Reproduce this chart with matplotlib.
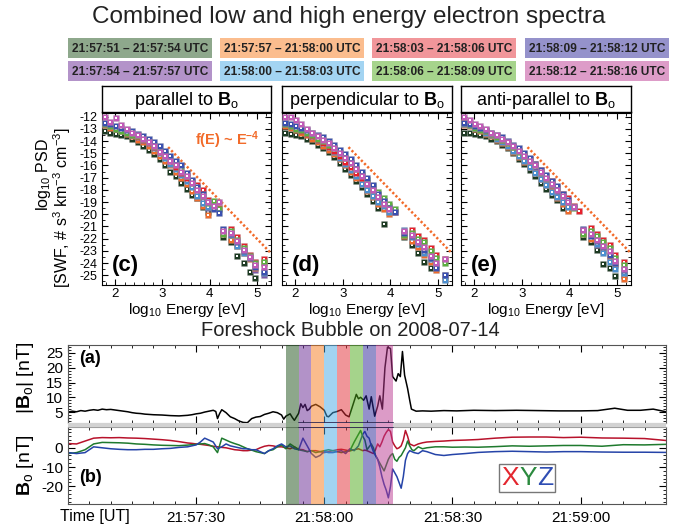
import numpy as np
import matplotlib
matplotlib.use('Agg')
import matplotlib.pyplot as plt
from matplotlib.patches import Rectangle
from matplotlib.ticker import MultipleLocator
from matplotlib.offsetbox import TextArea, HPacker, AnchoredOffsetbox
from matplotlib.transforms import blended_transform_factory

plt.rcParams['font.family'] = ['Liberation Sans', 'DejaVu Sans']
plt.rcParams['mathtext.fontset'] = 'custom'
plt.rcParams['mathtext.rm'] = 'Liberation Sans'
plt.rcParams['mathtext.bf'] = 'Liberation Sans:bold'
plt.rcParams['mathtext.it'] = 'Liberation Sans:italic'
plt.rcParams['axes.unicode_minus'] = False

# ---- time intervals (seconds after 21:57:00) ----
band_edges = [51, 54, 57, 60, 63, 66, 69, 72, 76]
band_times = ['21:57:51', '21:57:54', '21:57:57', '21:58:00', '21:58:03',
              '21:58:06', '21:58:09', '21:58:12', '21:58:16']
band_colors = ['#8ea88c', '#b393c9', '#fbbd8e', '#a3d4f2',
               '#f1969a', '#a6d48c', '#9592cb', '#dd9cc8']
marker_colors = ['#1c3a22', '#7a58a8', '#ef6c2c', '#4b8fd0',
                 '#e8202c', '#5cb040', '#3a50b0', '#c25ab8']
overlay_span = (54, 76)

# ---- spectra ----
energy = [1.79, 1.90, 2.02, 2.13, 2.25, 2.36, 2.48, 2.59, 2.71, 2.82, 2.94,
          3.05, 3.17, 3.28, 3.40, 3.51, 3.63, 3.74, 3.86, 3.97, 4.09, 4.20,
          4.28, 4.45, 4.58, 4.72, 4.85, 4.97, 5.16]
nan = np.nan
psd_par = [
    [-13.2, -13.3, -13.4, -13.5, -13.6, -13.8, -14.1, -14.4, -14.7, -15.1, -15.5, -16.0, -16.5, -16.9, -17.4, -17.9, -18.4, -18.7, -19.4, -19.8, nan, nan,
     -21.9, -22.3, -23.4, -24.0, -24.7, -25.2, nan],
    [-12.6, -12.8, -12.9, -13.1, -13.3, -13.5, -13.8, -14.0, -14.3, -14.6, -15.0, -15.4, -15.8, -16.3, -16.8, -17.3, -17.8, -18.3, -18.9, -19.5, nan, nan,
     -21.5, -22.0, -22.4, -23.0, -23.6, -24.6, -25.0],
    [-12.7, -12.9, -13.0, -13.2, -13.4, -13.6, -13.9, -14.1, -14.4, -14.8, -15.2, -15.6, -16.0, -16.5, -17.0, -17.5, -18.1, -18.7, -19.3, -20.1, nan, nan,
     -21.6, -22.1, -22.6, -23.2, -23.7, -24.4, -24.0],
    [-12.5, -12.7, -12.9, -13.1, -13.2, -13.5, -13.7, -13.9, -14.2, -14.6, -15.0, -15.4, -15.9, -16.3, -16.8, -17.3, -17.8, -18.5, -19.1, -19.4, nan, nan,
     -21.3, -21.7, -22.6, -23.2, -23.5, -24.0, -24.8],
    [-12.6, -12.7, -12.9, -13.1, -13.3, -13.5, -13.7, -13.9, -14.2, -14.5, -14.9, -15.1, -15.6, -16.1, -16.6, -17.0, -17.3, -17.6, -18.0, -18.8, -19.2, -19.5,
     -21.5, -21.2, -21.9, -22.6, -23.3, -23.9, -23.7],
    [-12.6, -12.8, -13.0, -13.2, -13.3, -13.5, -13.6, -13.8, -14.1, -14.4, -14.8, -15.0, -15.4, -15.9, -16.3, -16.9, -17.4, -17.9, -18.5, -19.1, -18.9, -19.6,
     -21.6, -21.4, -22.1, -22.8, -23.4, -24.0, -23.9],
    [-12.5, -12.6, -12.8, -12.9, -13.1, -13.2, -13.4, -13.6, -13.8, -14.1, -14.4, -14.8, -15.2, -15.6, -16.0, -16.6, -17.2, -17.8, -18.3, -19.0, -19.6, -19.9,
     -21.2, -21.6, -22.3, -23.0, -23.6, -24.3, -24.7],
    [-12.0, -12.4, -12.1, -12.7, -13.0, -13.3, -13.5, -13.8, -14.1, -14.4, -14.9, -15.2, -15.6, -16.0, -16.5, -16.9, -17.4, -18.0, -18.5, -19.0, -19.3, -19.0,
     -21.4, -21.5, -22.2, -22.9, -23.5, -24.2, -24.3],
]
psd_perp = [
    [-13.3, -13.4, -13.5, -13.6, -13.8, -14.0, -14.3, -14.6, -14.9, -15.3, -15.8, -16.3, -16.8, -17.3, -17.8, -18.3, -18.9, -19.5, -20.8, nan, nan, nan,
     -21.9, -22.5, -23.2, -23.9, -24.4, nan, nan],
    [-12.6, -12.8, -13.0, -13.2, -13.4, -13.6, -13.9, -14.2, -14.5, -14.9, -15.3, -15.7, -16.1, -16.6, -17.1, -17.6, -18.1, -18.6, -19.1, -19.6, nan, nan,
     -21.6, -22.1, -22.6, -23.1, -23.8, -24.3, -25.0],
    [-12.8, -12.9, -13.1, -13.3, -13.5, -13.8, -14.1, -14.4, -14.7, -15.1, -15.5, -16.0, -16.5, -17.0, -17.5, -18.1, -18.6, -19.2, -19.6, -20.0, nan, nan,
     -21.8, -22.2, -22.7, -23.3, -23.9, -24.6, -25.3],
    [-12.5, -12.7, -12.9, -13.1, -13.3, -13.6, -13.9, -14.2, -14.5, -14.9, -15.4, -15.9, -16.4, -16.9, -17.5, -18.0, -18.5, -19.0, -19.3, -19.8, nan, nan,
     -21.3, -21.9, -22.4, -23.2, -23.7, -24.2, -25.4],
    [-12.6, -12.8, -13.0, -13.2, -13.4, -13.6, -13.9, -14.2, -14.5, -14.8, -15.2, -15.7, -16.1, -16.6, -17.0, -17.4, -17.9, -18.4, -18.9, -19.3, -19.8, nan,
     -21.6, -21.3, -21.8, -22.1, -22.8, -23.3, -23.7],
    [-12.6, -12.8, -13.0, -13.1, -13.3, -13.5, -13.8, -14.0, -14.3, -14.6, -15.0, -15.4, -15.8, -16.3, -16.8, -17.2, -17.7, -18.2, -18.7, -19.2, -19.6, nan,
     -21.7, -21.5, -22.0, -22.3, -23.0, -23.6, -24.0],
    [-12.5, -12.6, -12.8, -12.9, -13.1, -13.3, -13.5, -13.7, -14.0, -14.3, -14.7, -15.1, -15.5, -16.0, -16.5, -17.0, -17.6, -18.3, -18.9, -19.5, -19.8, nan,
     -21.5, -21.8, -22.3, -22.9, -23.6, -24.4, -25.0],
    [-12.0, -12.0, -12.3, -12.6, -13.0, -13.3, -13.6, -13.9, -14.2, -14.6, -15.0, -15.4, -15.8, -16.3, -16.9, -17.5, -18.0, -18.6, -19.2, -19.6, nan, nan,
     -21.4, -21.7, -22.3, -22.7, -23.4, -24.0, -23.7],
]
psd_anti = [
    [-13.3, -13.3, -13.4, -13.5, -13.6, -13.8, -14.0, -14.3, -14.6, -15.0, -15.5, -15.9, -16.4, -16.9, -17.4, -17.9, -18.4, -18.8, -19.5, -19.6, nan, nan,
     -21.9, -22.3, -22.9, -24.1, -24.4, -25.1, -25.0],
    [-12.5, -12.7, -12.8, -13.0, -13.2, -13.4, -13.7, -13.9, -14.2, -14.5, -14.9, -15.3, -15.7, -16.2, -16.7, -17.2, -17.7, -18.2, -18.8, -19.3, nan, nan,
     -21.3, -21.8, -22.5, -23.0, -23.7, -24.2, -25.1],
    [-12.7, -12.8, -13.0, -13.2, -13.4, -13.6, -13.9, -14.2, -14.5, -14.9, -15.3, -15.7, -16.1, -16.6, -17.1, -17.6, -18.1, -18.7, -19.2, -19.7, nan, nan,
     -21.6, -22.0, -22.3, -22.9, -23.4, -24.1, -25.3],
    [-12.6, -12.7, -12.9, -13.0, -13.3, -13.5, -13.8, -14.1, -14.4, -14.8, -15.2, -15.6, -16.1, -16.6, -17.1, -17.6, -18.2, -18.6, -19.0, -19.4, nan, nan,
     -21.4, -21.7, -22.4, -23.2, -23.9, -24.5, -24.8],
    [-12.4, -12.6, -12.8, -13.0, -13.2, -13.4, -13.6, -13.9, -14.2, -14.5, -14.8, -15.1, -15.5, -15.9, -16.4, -16.9, -17.3, -17.8, -18.3, -18.7, -19.3, -19.7,
     -21.5, -21.1, -21.6, -22.1, -22.5, -23.3, -23.9],
    [-12.5, -12.7, -12.9, -13.1, -13.2, -13.4, -13.7, -13.9, -14.2, -14.5, -14.9, -15.2, -15.6, -16.0, -16.5, -17.0, -17.5, -17.9, -18.4, -19.0, -19.5, nan,
     -21.6, -21.4, -21.8, -22.3, -22.8, -23.6, -24.2],
    [-12.5, -12.6, -12.8, -12.9, -13.1, -13.3, -13.5, -13.7, -14.0, -14.3, -14.6, -15.0, -15.4, -15.9, -16.4, -16.8, -17.3, -17.7, -18.3, -18.8, -19.4, nan,
     -21.2, -21.8, -22.2, -22.7, -23.3, -24.0, -24.6],
    [-12.0, -12.3, -12.6, -12.8, -13.0, -13.3, -13.5, -13.8, -14.1, -14.4, -14.8, -15.2, -15.6, -16.0, -16.5, -17.0, -17.5, -18.0, -18.5, -19.0, -19.4, nan,
     -21.3, -21.6, -22.1, -22.6, -23.0, -23.8, -24.5],
]
panel_titles = [r'parallel to $\mathbf{B}_\mathrm{o}$',
                r'perpendicular to $\mathbf{B}_\mathrm{o}$',
                r'anti-parallel to $\mathbf{B}_\mathrm{o}$']
panel_tags = ['(c)', '(d)', '(e)']
powerlaw_x = [3.12, 5.30]
powerlaw_y = [-14.5, -23.2]

# ---- magnetic field time series ----
t_mag = [0, 1, 2, 3, 4, 5, 6, 7, 8, 9,
         10, 11, 12, 13, 14, 15, 16, 17, 18, 19,
         20, 22, 24, 26, 28, 29, 30, 31, 32, 33,
         34, 34.6, 35, 35.5, 36, 37, 38, 39, 40, 41,
         42, 43, 44, 45, 46, 47, 48, 49, 50, 50.5,
         51, 52, 52.5, 53, 54, 54.5, 55, 55.5, 56, 56.5,
         57, 58, 59, 60, 60.6, 61, 62, 63, 64, 65,
         65.8, 66.5, 67.5, 68, 68.5, 69.2, 69.8, 70.5, 71, 71.8,
         72.5, 73, 73.6, 74.2, 74.8, 75.5, 76, 76.8, 77.3, 77.8,
         78.3, 78.8, 79.5, 80, 80.4, 81.5, 83, 85, 88, 91,
         95, 100, 105, 110, 115, 120, 124, 128, 131, 134,
         137, 140]
b_mag = [5.0, 5.3, 5.1, 5.5, 5.3, 5.6, 5.8, 5.6, 6.0, 5.8,
         5.9, 5.7, 5.5, 5.3, 5.1, 4.8, 4.6, 4.5, 4.3, 4.2,
         4.1, 4.0, 3.8, 3.7, 3.9, 4.1, 4.4, 4.6, 5.0, 5.3,
         5.6, 5.2, 2.8, 4.5, 5.8, 4.8, 3.4, 2.8, 2.0, 1.5,
         1.4, 2.8, 3.3, 3.5, 4.2, 4.6, 5.1, 4.8, 4.0, 2.6,
         3.6, 4.4, 3.2, 2.2, 4.6, 7.8, 6.5, 7.6, 5.5, 6.0,
         7.0, 7.6, 6.8, 5.6, 3.6, 3.4, 4.8, 5.2, 5.8, 4.0,
         3.4, 6.5, 11.0, 9.5, 10.0, 9.0, 10.5, 6.0, 10.2, 3.6,
         7.0, 10.5, 6.0, 20.0, 27.0, 26.5, 17.0, 15.5, 18.0, 17.0,
         25.5, 17.5, 13.0, 9.0, 6.0, 5.3, 5.4, 5.3, 5.5, 5.4,
         5.6, 5.5, 5.6, 5.5, 5.4, 5.4, 5.5, 6.3, 5.6, 5.6,
         6.0, 5.1]

t_xyz = [0, 2, 4, 6, 8, 10, 12, 14, 16, 18,
         20, 22, 24, 26, 28, 29, 30, 31, 32, 33,
         34, 35, 36, 37, 38, 39, 40, 41, 42, 43,
         44, 45, 46, 47, 48, 49, 50, 51, 52, 53,
         54, 55, 56, 57, 58, 59, 60, 61, 62, 63,
         64, 65, 66, 67, 68, 68.5, 69, 69.5, 70, 70.5,
         71, 71.5, 72, 72.5, 73, 73.5, 74, 74.5, 75, 75.5,
         76, 76.5, 77, 77.5, 78, 78.5, 79, 79.5, 80, 80.5,
         81, 82, 83, 84, 86, 88, 90, 93, 96, 100,
         104, 108, 112, 116, 120, 125, 130, 135, 140]
b_x = [2.2, 2.0, 3.5, 5.0, 5.3, 5.2, 5.3, 5.1, 5.0, 4.8,
       4.5, 4.2, 3.8, 3.2, 2.5, 2.3, 2.0, 1.8, 1.5, 1.2,
       0.8, 0.5, 0.2, 0.0, -0.5, -1.0, -1.2, -1.5, -1.5, -1.2,
       -1.0, 0.0, 0.8, 1.2, 1.0, 0.5, 0.5, 0.0, -0.5, 0.5,
       -0.8, -1.0, -2.0, -1.5, -1.5, -2.0, -2.5, -2.0, -1.5, -1.0,
       -0.8, -1.2, -1.6, -1.0, -0.5, -1.0, -1.5, -1.2, -1.5, -2.0,
       -2.5, -3.0, -1.0, 2.0, 0.5, 3.0, 6.0, 8.0, 9.5, 8.5,
       3.0, 1.0, -0.5, 0.0, 1.0, 4.0, 9.0, 6.0, 2.0, 1.5,
       1.0, 2.0, 2.6, 3.0, 3.3, 3.5, 3.8, 4.0, 4.3, 5.0,
       5.5, 5.6, 5.6, 5.3, 5.5, 5.1, 5.0, 4.8, 3.8]
b_y = [-3.0, -2.5, -1.0, 2.0, 2.8, 2.7, 2.6, 2.4, 2.0, 1.8,
       1.5, 1.3, 1.2, 1.1, 1.4, 1.6, 1.8, 2.0, 2.2, 1.5,
       0.5, -2.5, 5.0, 4.0, 3.0, 2.2, 1.5, 0.5, -0.5, -1.2,
       -2.0, -2.5, -3.0, -1.5, -1.0, 0.5, 1.5, -0.5, 2.0, 0.5,
       -1.0, -1.5, -2.0, -1.5, -2.5, -2.0, -1.5, -1.0, -1.5, -2.0,
       -2.5, -2.0, -1.5, 3.0, 7.0, 9.0, 6.0, 4.0, -1.0, 0.5,
       2.0, 0.0, -4.0, -6.0, -8.0, -10.0, -12.0, -9.0, -6.0, -4.0,
       -3.0, -6.0, -7.0, -5.0, -4.0, -2.0, 0.0, 3.5, 1.0, -1.0,
       -1.5, 0.5, -0.5, 0.0, 0.5, 0.5, 0.3, 0.4, 0.3, 0.6,
       1.0, 0.8, 1.0, 1.2, 1.2, 0.8, 1.6, 1.5, 1.8]
b_z = [-2.5, -3.0, -2.5, 0.5, 0.0, -0.5, -0.8, -1.0, -1.0, -0.8,
       -0.8, -0.5, -0.3, 0.2, 0.5, 1.0, 1.5, 3.0, 5.0, 4.0,
       3.0, -0.5, 0.5, 2.0, 1.0, 0.5, 0.0, -0.5, -0.5, -1.0,
       -1.0, -2.0, -3.0, -1.5, -0.5, 1.0, 2.0, 0.5, 1.0, -0.5,
       -1.0, 5.0, 1.0, -3.0, -5.0, -4.0, -2.0, -2.5, -2.5, -2.0,
       -1.5, -3.0, -0.5, -1.5, 1.0, 4.0, 7.0, 8.5, 6.0, 5.0,
       1.0, -2.0, -4.0, -6.0, -10.0, -15.0, -19.0, -22.0, -26.0, -20.0,
       -11.0, -13.0, -15.0, -18.0, -21.0, -15.0, -6.5, -3.0, -1.5, -2.0,
       -2.5, -3.0, -1.5, -2.0, -3.5, -4.0, -3.5, -3.0, -2.4, -2.0,
       -1.8, -2.0, -2.2, -2.0, -2.0, -2.2, -2.3, -2.3, -2.4]
time_ticks = [30, 60, 90, 120]
time_labels = ['21:57:30', '21:58:00', '21:58:30', '21:59:00']

W, H = 678, 529
fig = plt.figure(figsize=(W / 100, H / 100), dpi=100)


def px_rect(x0, y0, x1, y1):
    return [x0 / W, 1 - y1 / H, (x1 - x0) / W, (y1 - y0) / H]


fig.text(349 / W, 1 - 17 / H, 'Combined low and high energy electron spectra',
         ha='center', va='center', fontsize=17.5, color='#222222')

# legend of time intervals (two rows, column major)
leg_x = [68, 220, 372, 525]
leg_y = [38, 61]
for i in range(8):
    x0 = leg_x[i // 2]
    y0 = leg_y[i % 2]
    fig.patches.append(Rectangle((x0 / W, 1 - (y0 + 20) / H), 144 / W, 20 / H,
                                 transform=fig.transFigure, facecolor=band_colors[i],
                                 edgecolor='none'))
    fig.text((x0 + 72) / W, 1 - (y0 + 10.5) / H,
             f'{band_times[i]} \u2013 {band_times[i + 1]} UTC',
             ha='center', va='center', fontsize=8.6, fontweight='bold', color='#222222')

# ---- spectra panels ----
spec_x = [(102, 271), (282, 452), (461, 631)]
datasets = [psd_par, psd_perp, psd_anti]
for k, (x0, x1) in enumerate(spec_x):
    tax = fig.add_axes(px_rect(x0, 86, x1, 112))
    tax.set_xticks([])
    tax.set_yticks([])
    for sp in tax.spines.values():
        sp.set_linewidth(1.0)
    tax.text(0.5, 0.45, panel_titles[k], ha='center', va='center', fontsize=13,
             transform=tax.transAxes)

    ax = fig.add_axes(px_rect(x0, 113, x1, 285))
    for s in range(8):
        ax.scatter(energy, datasets[k][s], s=15, marker='s', c=marker_colors[s],
                   edgecolors=(0.6, 0.6, 0.6, 0.3), linewidths=0.6, zorder=3)
        ax.scatter(energy, datasets[k][s], s=0.9, marker='s', c='white',
                   linewidths=0, zorder=3)
    ax.plot(powerlaw_x, powerlaw_y, color='#f26b2a', lw=1.8,
            linestyle=(0, (0.9, 0.9)), zorder=2)
    ax.set_xlim(1.72, 5.3)
    ax.set_ylim(-25.8, -11.7)
    ax.xaxis.set_major_locator(MultipleLocator(1))
    ax.xaxis.set_minor_locator(MultipleLocator(0.2))
    ax.yaxis.set_major_locator(MultipleLocator(1))
    ax.yaxis.set_minor_locator(MultipleLocator(0.5))
    ax.tick_params(which='both', direction='in', top=True, right=True, labelsize=9.5)
    ax.tick_params(axis='y', labelsize=9, pad=3)
    ax.tick_params(which='major', length=4, width=0.8)
    ax.tick_params(which='minor', length=2, width=0.6)
    ax.tick_params(axis='x', pad=2)
    if k > 0:
        ax.set_yticklabels([])
    ax.set_xlabel(r'log$_{10}$ Energy [eV]', fontsize=11, labelpad=1)
    ax.text(0.06, 0.115, panel_tags[k], transform=ax.transAxes, fontsize=16,
            fontweight='bold', ha='left', va='center', zorder=5)
    if k == 0:
        ax.text(0.55, 0.843, r'f(E) ~ E$^{\mathbf{-4}}$', transform=ax.transAxes,
                fontsize=10.5, fontweight='bold', color='#f26b2a', ha='left', va='center')

fig.text(43 / W, 1 - 175 / H, r'log$_{10}$ PSD', rotation=90, ha='center', va='center',
         fontsize=11.5)
fig.text(62 / W, 1 - 208 / H, r'[SWF, # s$^3$ km$^{-3}$ cm$^{-3}$]', rotation=90,
         ha='center', va='center', fontsize=11.5)

# ---- time series panels ----
fig.text(350 / W, 1 - 330 / H, 'Foreshock Bubble on 2008-07-14', ha='center',
         va='center', fontsize=14.5, color='#222222')

ax_a = fig.add_axes(px_rect(68, 345, 666, 423))
ax_b = fig.add_axes(px_rect(68, 427, 666, 504))

# light gray separator between the panels
fig.patches.append(Rectangle((68 / W, 1 - 427 / H), 598 / W, 4 / H,
                             transform=fig.transFigure, facecolor='#d2d2d2',
                             edgecolor='none', zorder=0))

alpha = 0.5
gap_tr = blended_transform_factory(ax_b.transData, fig.transFigure)
for i in range(8):
    rgb = np.array(matplotlib.colors.to_rgb(band_colors[i]))
    base = np.clip((rgb - (1 - alpha)) / alpha, 0, 1)
    for ax in (ax_a, ax_b):
        ax.axvspan(band_edges[i], band_edges[i + 1], color=base, alpha=alpha,
                   lw=0, zorder=3)
    fig.patches.append(Rectangle((band_edges[i], 1 - 427 / H),
                                 band_edges[i + 1] - band_edges[i], 4 / H,
                                 transform=gap_tr, facecolor=band_colors[i],
                                 edgecolor='none', zorder=1))

ax_a.plot(t_mag, b_mag, color='black', lw=1.1, zorder=2)
ax_b.plot(t_xyz, b_x, color='#b8122b', lw=1.1, zorder=2)
ax_b.plot(t_xyz, b_y, color='#1f7a2e', lw=1.1, zorder=2)
ax_b.plot(t_xyz, b_z, color='#2544a8', lw=1.1, zorder=2)

ax_a.set_ylim(1.3, 27.7)
ax_b.set_ylim(-29.2, 10.8)
for ax in (ax_a, ax_b):
    ax.set_xlim(0, 140)
    ax.xaxis.set_major_locator(MultipleLocator(30))
    ax.xaxis.set_minor_locator(MultipleLocator(5))
    ax.tick_params(which='both', direction='in', top=True, right=True, labelsize=11)
    ax.tick_params(which='major', length=5, width=0.8)
    ax.tick_params(which='minor', length=2.5, width=0.6)
    for sp in ax.spines.values():
        sp.set_color('#555555')

ax_a.spines['bottom'].set_color('#a0a0a0')
ax_b.spines['top'].set_color('#a0a0a0')
ax_a.plot(overlay_span, [0, 0], transform=blended_transform_factory(ax_a.transData, ax_a.transAxes),
          color='#2d2550', lw=1.2, zorder=5, clip_on=False)
ax_b.plot(overlay_span, [1, 1], transform=blended_transform_factory(ax_b.transData, ax_b.transAxes),
          color='#2d2550', lw=1.2, zorder=5, clip_on=False)

ax_a.set_xticklabels([])
ax_a.yaxis.set_minor_locator(MultipleLocator(1))
ax_a.set_yticks([5, 10, 15, 20, 25])
ax_b.set_yticks([-20, -10, 0])
ax_b.yaxis.set_minor_locator(MultipleLocator(2))
ax_b.set_xticks(time_ticks)
ax_b.set_xticklabels(time_labels)
ax_b.tick_params(axis='x', pad=5)

ax_a.text(0.018, 0.83, '(a)', transform=ax_a.transAxes, fontsize=13, fontweight='bold',
          ha='left', va='center', zorder=6)
ax_b.text(0.018, 0.35, '(b)', transform=ax_b.transAxes, fontsize=13, fontweight='bold',
          ha='left', va='center', zorder=6)

fig.text(25 / W, 1 - 378 / H, r'|$\mathbf{B}_\mathrm{o}$| [nT]', rotation=90,
         ha='center', va='center', fontsize=14)
fig.text(25 / W, 1 - 465 / H, r'$\mathbf{B}_\mathrm{o}$ [nT]', rotation=90,
         ha='center', va='center', fontsize=14)
fig.text(60 / W, 1 - 517 / H, 'Time [UT]', ha='left', va='center', fontsize=11.5)

xyz = HPacker(children=[TextArea('X', textprops=dict(color='#e3262e', fontsize=19)),
                        TextArea('Y', textprops=dict(color='#2b8a3e', fontsize=19)),
                        TextArea('Z', textprops=dict(color='#2f4db3', fontsize=19))],
              pad=0, sep=0)
box = AnchoredOffsetbox(loc='center', child=xyz, pad=0.15, frameon=True,
                        bbox_to_anchor=(0.768, 0.34), bbox_transform=ax_b.transAxes,
                        borderpad=0)
box.patch.set_edgecolor('#777777')
box.patch.set_linewidth(1.0)
box.zorder = 6
ax_b.add_artist(box)

fig.savefig('out.png', dpi=100)
